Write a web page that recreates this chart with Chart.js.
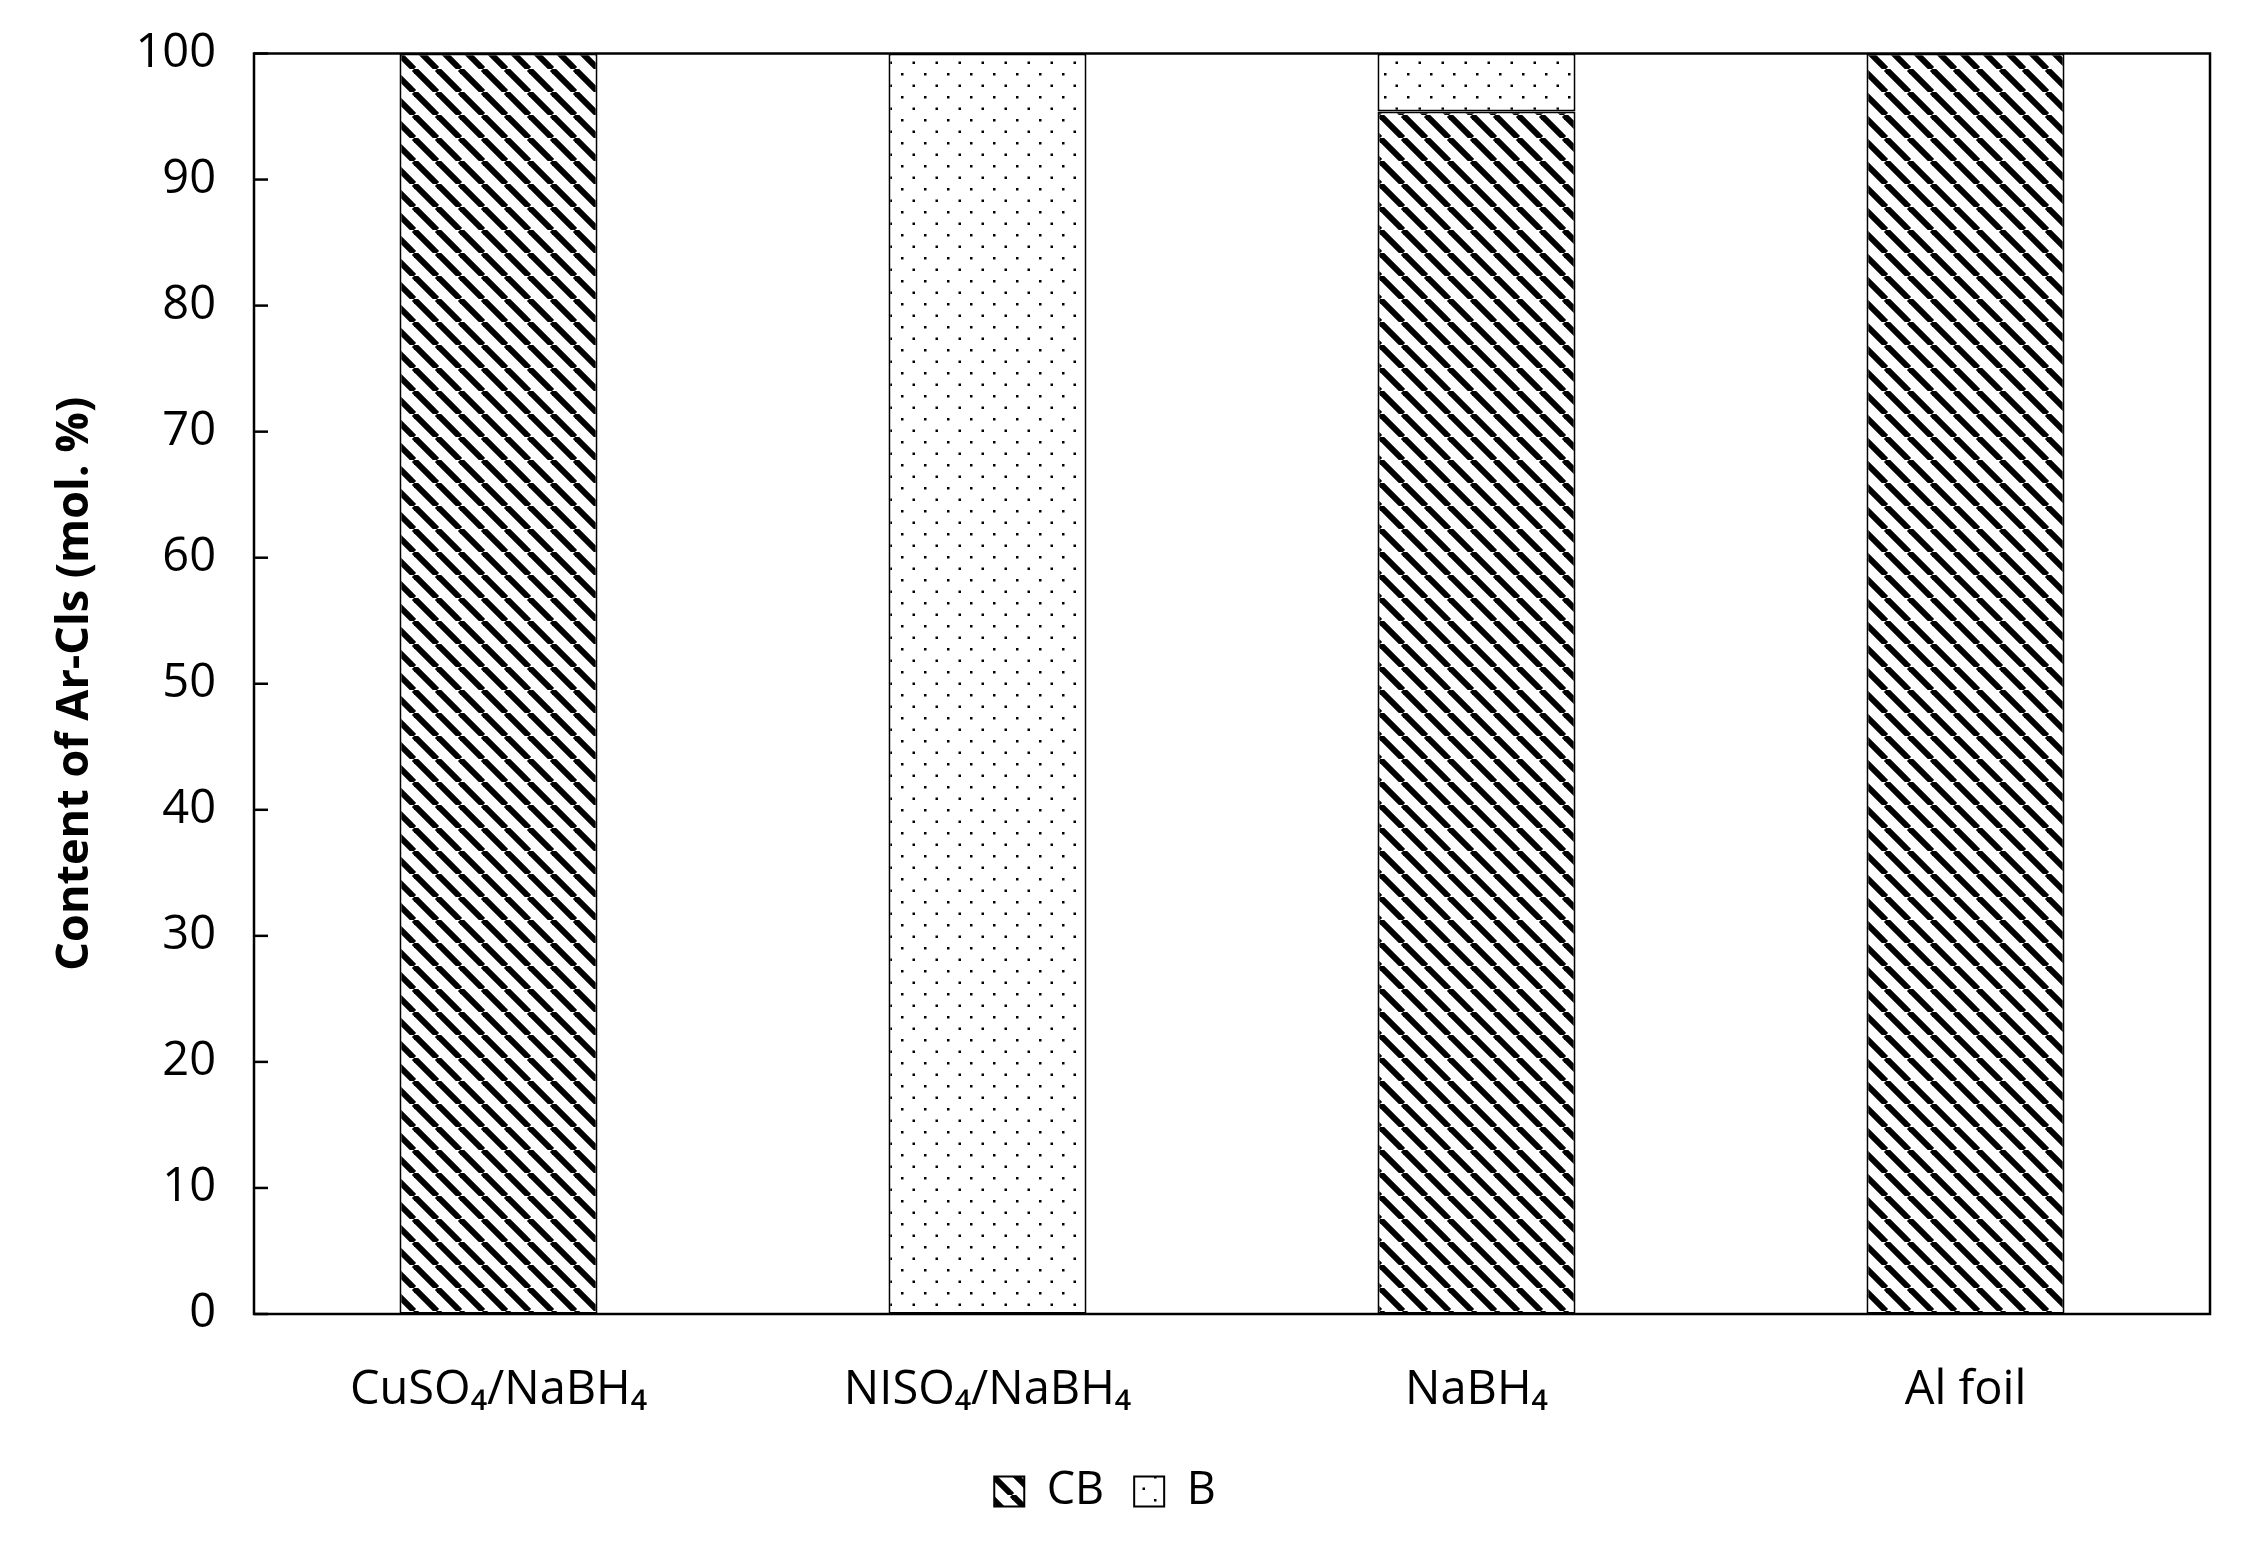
<!DOCTYPE html>
<html>
<head>
<meta charset="utf-8">
<script src="https://cdn.jsdelivr.net/npm/chart.js@4.4.1/dist/chart.umd.min.js"></script>
<style>
    html, body { margin: 0; padding: 0; background: #fff; }
    .wrap { width: 2262px; height: 1542px; }
</style>
</head>
<body>
<div class="wrap"><canvas class="js-chart" width="2262" height="1542"></canvas></div>
<script>
const categories = ['CuSO\u2084/NaBH\u2084', 'NISO\u2084/NaBH\u2084', 'NaBH\u2084', 'Al foil'];
const cbValues = [100, 0, 95.4, 100];
const bValues = [0, 100, 4.6, 0];
const yTicks = [0, 10, 20, 30, 40, 50, 60, 70, 80, 90, 100];

const FONT = "'Open Sans', 'Noto Sans', 'DejaVu Sans', sans-serif";

function hatchPattern() {
    const s = 23;
    const c = document.createElement('canvas');
    c.width = s; c.height = s;
    const g = c.getContext('2d');
    g.fillStyle = '#fff';
    g.fillRect(0, 0, s, s);
    g.strokeStyle = '#000';
    g.lineWidth = 6;
    [-s, 0, s].forEach(off => {
        g.beginPath();
        g.moveTo(off, 0);
        g.lineTo(off + s, s);
        g.stroke();
    });
    return g.createPattern(c, 'repeat');
}

function dotPattern() {
    const w = 23, h = 23;
    const c = document.createElement('canvas');
    c.width = w; c.height = h;
    const g = c.getContext('2d');
    g.fillStyle = '#fff';
    g.fillRect(0, 0, w, h);
    g.fillStyle = '#000';
    g.fillRect(4, 4, 2.5, 2.5);
    g.fillRect(15.5, 15.5, 2.5, 2.5);
    return g.createPattern(c, 'repeat');
}

// box round the plot and inward tick marks on the y axis
const frame = {
    id: 'frame',
    afterDatasetsDraw(chart) {
        const { ctx, chartArea: a, scales: { y } } = chart;
        ctx.save();
        ctx.strokeStyle = '#000';
        ctx.lineWidth = 2.5;
        ctx.strokeRect(a.left, a.top, a.right - a.left, a.bottom - a.top);
        yTicks.forEach(v => {
            const py = y.getPixelForValue(v);
            ctx.beginPath();
            ctx.moveTo(a.left, py);
            ctx.lineTo(a.left + 14, py);
            ctx.stroke();
        });
        ctx.restore();
    }
};

new Chart(document.querySelector('.js-chart').getContext('2d'), {
    type: 'bar',
    data: {
        labels: categories,
        datasets: [{
            label: 'CB',
            data: cbValues,
            backgroundColor: hatchPattern(),
            borderColor: '#000',
            borderWidth: 2,
            borderSkipped: false,
            categoryPercentage: 1,
            barPercentage: 0.405,
        },
        {
            label: 'B',
            data: bValues,
            backgroundColor: dotPattern(),
            borderColor: '#000',
            borderWidth: 2,
            borderSkipped: false,
            categoryPercentage: 1,
            barPercentage: 0.405,
        }]
    },
    options: {
        responsive: false,
        animation: false,
        layout: { padding: { top: 0, right: 52, left: 0, bottom: 18 } },
        scales: {
            x: {
                stacked: true,
                grid: { display: false },
                border: { display: false },
                ticks: { color: '#000', font: { family: FONT, size: 47 }, padding: 40, maxRotation: 0 },
                afterFit(scale) { scale.height = 125; }
            },
            y: {
                stacked: true,
                min: 0,
                max: 100,
                grid: { display: false },
                border: { display: false },
                afterBuildTicks(scale) { scale.ticks = yTicks.map(v => ({ value: v })); },
                ticks: { color: '#000', font: { family: FONT, size: 47, lineHeight: 1 }, padding: 30 },
                title: {
                    display: true,
                    text: 'Content of Ar-Cls (mol. %)',
                    color: '#000',
                    font: { family: FONT, size: 45, weight: 'bold' },
                    padding: { top: 48, bottom: 0 }
                },
                afterFit(scale) { scale.width = 254; }
            }
        },
        plugins: {
            legend: {
                position: 'bottom',
                labels: { color: '#000', font: { family: FONT, size: 45 }, boxWidth: 30, boxHeight: 30, padding: 30 }
            },
            tooltip: { enabled: false }
        }
    },
    plugins: [frame]
});
</script>
</body>
</html>
